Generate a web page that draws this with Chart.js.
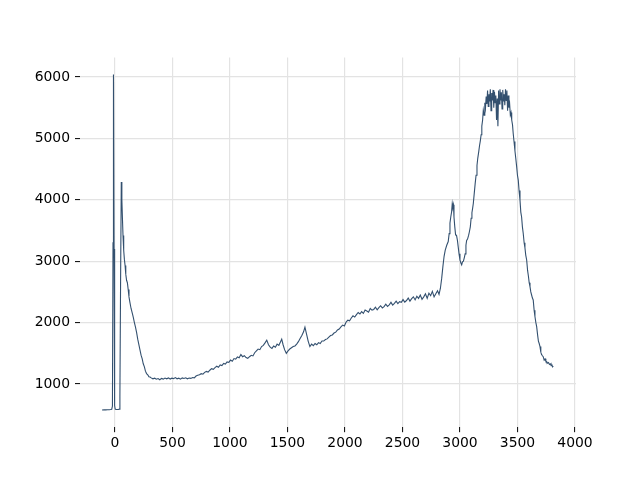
<!DOCTYPE html>
<html>
<head>
<meta charset="utf-8">
<script src="https://cdn.jsdelivr.net/npm/chart.js@4.4.1/dist/chart.umd.min.js"></script>
<style>
  html, body { margin: 0; padding: 0; background: #fff; }
  #wrap { width: 640px; height: 480px; }
</style>
</head>
<body>
<div id="wrap"><canvas id="spectrum" width="640" height="480"></canvas></div>
<script>
// spectrum: x position and intensity
var shiftX = [
  -112, -95, -80, -65, -50, -38, -28, -22, -17, -13, -8, -3, 2, 10, 20, 30, 38, 43, 49, 55,
  60, 65, 70, 76, 82, 88, 94, 101, 108, 115, 122, 130, 140, 150, 159, 168, 178, 188, 198, 207,
  217, 227, 237, 246, 256, 265, 275, 285, 295, 305, 315,
  330, 345, 360, 375, 390, 405, 420, 435, 450, 465, 480, 495, 510, 525, 540, 555, 570, 585, 600, 615,
  630, 645, 660, 675, 690, 705, 720, 735, 750, 765, 780, 795, 810, 825, 840, 855, 870, 885, 900, 915,
  930, 945, 960, 975, 990, 1005, 1020, 1035, 1050, 1065, 1080, 1095, 1110, 1125, 1140, 1155, 1170, 1185, 1200, 1215,
  1230, 1245, 1260, 1275, 1290, 1305, 1320, 1335, 1350, 1365, 1380, 1395, 1410, 1425, 1440, 1450, 1462, 1475, 1490, 1505,
  1520, 1535, 1550, 1565, 1580, 1595, 1610, 1625, 1640, 1652, 1665, 1680, 1695, 1710, 1725, 1740, 1755, 1770, 1785, 1800,
  1815, 1830, 1845, 1860, 1875, 1890, 1905, 1920, 1935, 1950, 1965, 1980, 1995, 2010, 2025, 2040, 2055, 2070, 2085, 2100,
  2115, 2130, 2145, 2160, 2175, 2190, 2205, 2220, 2235, 2250, 2265, 2280, 2295, 2310, 2325, 2340, 2355, 2370, 2385, 2400,
  2415, 2430, 2445, 2460, 2475, 2490, 2505, 2520, 2535, 2550, 2565, 2580, 2595, 2610, 2625, 2640, 2655, 2670, 2685, 2700,
  2715, 2730, 2745, 2760, 2775, 2790, 2805, 2818,
  2830, 2841, 2852, 2862, 2872, 2885, 2898, 2906, 2913, 2920, 2927, 2933, 2938, 2943, 2948, 2955, 2962, 2970, 2978, 2985,
  2992, 3000, 3008, 3015, 3022, 3030, 3038, 3045, 3052, 3058, 3066, 3075, 3082, 3090, 3097, 3104, 3110, 3116, 3124, 3132,
  3140, 3148, 3155, 3163, 3170, 3177, 3184, 3190, 3197, 3203, 3210, 3216, 3222, 3228, 3234, 3240, 3246, 3252, 3258, 3264,
  3270, 3276, 3282, 3288, 3294, 3300, 3306, 3312, 3318, 3324, 3330, 3336, 3342, 3348, 3354, 3360, 3366, 3372, 3378, 3384,
  3390, 3396, 3402, 3408, 3414, 3420, 3426, 3432, 3438, 3444, 3450, 3457, 3463, 3470, 3478, 3485, 3493, 3500, 3507, 3514,
  3522, 3529, 3536, 3543, 3550, 3558, 3565, 3572, 3580, 3588, 3595, 3602, 3609, 3616, 3623, 3630, 3637, 3645, 3652, 3660,
  3667, 3675, 3682, 3689, 3696, 3703, 3710, 3717, 3724, 3732, 3740, 3747, 3754, 3762, 3770, 3778, 3786, 3793, 3800, 3806,
  3811
];
var intensity = [
  578, 580, 579, 581, 582, 584, 590, 640, 3300, 6040, 3200, 650, 592, 586, 585, 586, 592, 780, 2700, 4290,
  4000, 3700, 3420, 3180, 3030, 2930, 2790, 2690, 2650, 2540, 2420, 2330, 2230, 2160, 2090, 2010, 1930, 1840, 1730, 1650,
  1560, 1470, 1410, 1330, 1280, 1210, 1170, 1150, 1120, 1115, 1100,
  1085, 1095, 1078, 1090, 1070, 1092, 1080, 1098, 1085, 1100, 1082, 1096, 1088, 1104, 1085, 1095, 1080, 1100, 1090, 1102,
  1085, 1098, 1092, 1106, 1100, 1130, 1142, 1150, 1168, 1160, 1190, 1205, 1195, 1225, 1250, 1240, 1268, 1290, 1272, 1310,
  1300, 1335, 1325, 1360, 1352, 1390, 1372, 1415, 1405, 1440, 1428, 1480, 1445, 1462, 1432, 1418, 1445, 1468, 1458, 1510,
  1540, 1570, 1560, 1610, 1630, 1670, 1715, 1640, 1600, 1580, 1620, 1600, 1650, 1630, 1690, 1730, 1640, 1560, 1500, 1540,
  1570, 1590, 1610, 1620, 1650, 1690, 1740, 1790, 1850, 1925, 1820, 1700, 1610, 1650, 1625, 1660, 1640, 1675, 1660, 1700,
  1700, 1725, 1735, 1765, 1790, 1800, 1830, 1845, 1880, 1895, 1930, 1960, 1945, 2010, 2040, 2030, 2075, 2110, 2090, 2130,
  2165, 2140, 2180, 2150, 2205, 2190, 2170, 2230, 2205, 2215, 2250, 2210, 2245, 2275, 2240, 2260, 2300, 2265, 2290, 2330,
  2285, 2315, 2350, 2310, 2340, 2330, 2375, 2335, 2360, 2400, 2350, 2390, 2420, 2370, 2430, 2395, 2450, 2380, 2420, 2470,
  2395, 2480, 2440, 2510, 2420, 2470, 2520, 2460,
  2560, 2720, 2920, 3080, 3180, 3260, 3320, 3450, 3620, 3720, 3800, 3940, 3880, 3920, 3720, 3560, 3430, 3420, 3340, 3230,
  3120, 3020, 2970, 2940, 2990, 3000, 3060, 3120, 3260, 3340, 3360, 3420, 3480, 3560, 3700, 3790, 3860, 3940, 4100, 4260,
  4400, 4560, 4680, 4780, 4880, 4960, 5060, 5200, 5300, 5460, 5380, 5580, 5500, 5680, 5560, 5780, 5520, 5720, 5600, 5800,
  5450, 5740, 5620, 5790, 5500, 5760, 5580, 5700, 5300, 5650, 5200, 5780, 5560, 5800, 5620, 5750, 5480, 5790, 5600, 5720,
  5540, 5800, 5620, 5780, 5450, 5700, 5500, 5560, 5380, 5420, 5300, 5220, 5080, 4950, 4800, 4680, 4540, 4400, 4320, 4150,
  3995, 3800, 3720, 3560, 3455, 3300, 3220, 3100, 3020, 2850, 2760, 2650, 2585, 2500, 2450, 2400, 2370, 2200, 2100, 2000,
  1935, 1800, 1700, 1660, 1610, 1520, 1480, 1460, 1445, 1390, 1410, 1370, 1365, 1340, 1350, 1320, 1330, 1300, 1310, 1280,
  1295
];
var xTicks = [0, 500, 1000, 1500, 2000, 2500, 3000, 3500, 4000];
var yTicks = [1000, 2000, 3000, 4000, 5000, 6000];

var points = [];
for (var i = 0; i < shiftX.length; i++) {
  points.push({ x: shiftX[i], y: intensity[i] });
}

var gridColor = "#e3e3e3";
var font = { family: "'DejaVu Sans', sans-serif", size: 13.9 };

function plainLabel(value) {
  return String(value);
}

new Chart(document.getElementById("spectrum"), {
  type: "line",
  data: {
    datasets: [{
      data: points,
      borderColor: "#33506f",
      borderWidth: 1.1,
      pointRadius: 0,
      tension: 0,
      fill: false
    }]
  },
  options: {
    responsive: false,
    animation: false,
    layout: { padding: { left: 0, right: 64, top: 57.6, bottom: 0 } },
    plugins: { legend: { display: false }, tooltip: { enabled: false } },
    scales: {
      x: {
        type: "linear",
        min: -304,
        max: 4009,
        afterFit: function(scale) { scale.height = 52.8; },
        afterBuildTicks: function(scale) {
          scale.ticks = xTicks.map(function(v) { return { value: v }; });
        },
        ticks: { color: "#000", font: font, padding: 3, maxRotation: 0, includeBounds: false, callback: plainLabel },
        grid: { color: gridColor, lineWidth: 1.2, tickColor: "#000", tickLength: 5, tickWidth: 1 },
        border: { display: false }
      },
      y: {
        type: "linear",
        min: 297,
        max: 6316,
        afterFit: function(scale) { scale.width = 80; },
        afterBuildTicks: function(scale) {
          scale.ticks = yTicks.map(function(v) { return { value: v }; });
        },
        ticks: { color: "#000", font: font, padding: 5, includeBounds: false, callback: plainLabel },
        grid: { color: gridColor, lineWidth: 1.2, tickColor: "#000", tickLength: 5, tickWidth: 1 },
        border: { display: false }
      }
    }
  }
});
</script>
</body>
</html>
